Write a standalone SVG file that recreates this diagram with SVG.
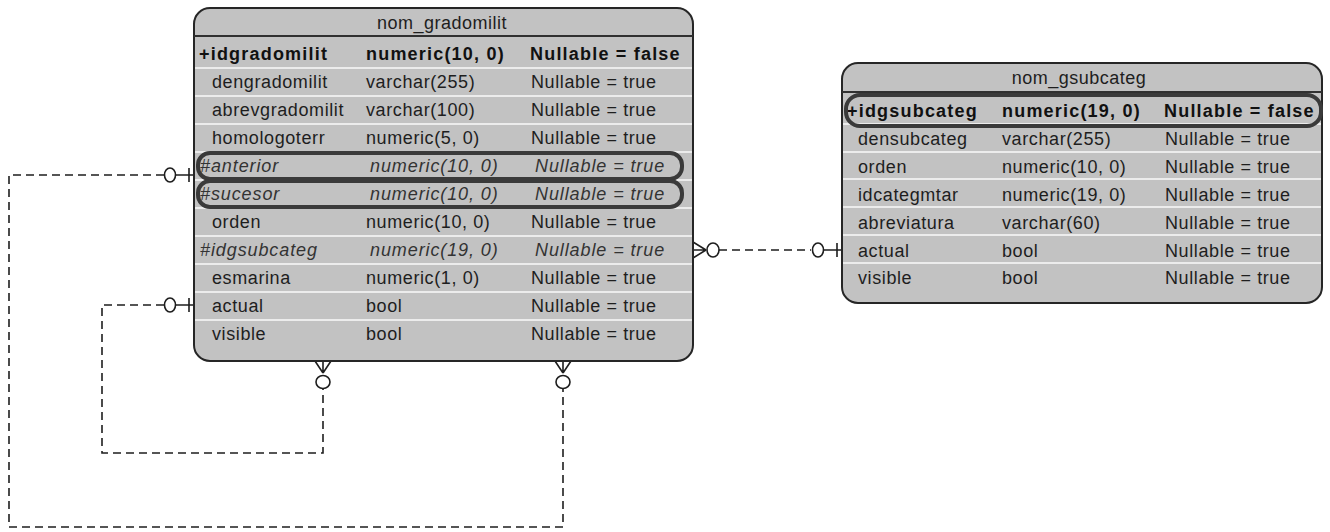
<svg xmlns="http://www.w3.org/2000/svg" xmlns:xlink="http://www.w3.org/1999/xlink" width="1330" height="532" viewBox="0 0 1330 532">
  <style>
    .tbl { fill: #c2c2c2; stroke: #262626; stroke-width: 2; }
    .hdr { stroke: #303030; stroke-width: 2; }
    .sep { stroke: #ececec; stroke-width: 2; }
    .key { fill: none; stroke: #3a3a3a; stroke-width: 4; }
    text { font-family: "Liberation Sans", Arial, sans-serif; font-size: 18px; letter-spacing: 0.6px; fill: #1e1e1e; }
    .title { text-anchor: middle; letter-spacing: 0.5px; }
    .pk { font-weight: bold; letter-spacing: 1.2px; fill: #111; }
    .fk { font-style: italic; letter-spacing: 0.9px; fill: #333; }
    .dash { fill: none; stroke: #1e1e1e; stroke-width: 1.6; stroke-dasharray: 8 5; }
    .sym { fill: none; stroke: #1e1e1e; stroke-width: 1.6; }
    .ring { fill: #ffffff; stroke: #1e1e1e; stroke-width: 1.6; }
  </style>
  <defs>
    <!-- many-optional end, pointing up into the table -->
    <g id="manyUp">
      <path class="sym" d="M0,0 L-8,-12 M0,0 L0,-12 M0,0 L8,-12"/>
      <ellipse class="ring" cx="0" cy="9" rx="7" ry="6.5"/>
    </g>
    <!-- one-optional end, entering the table from the left -->
    <g id="oneLeft">
      <path class="sym" d="M-18,0 L0,0 M-5,-7 L-5,7"/>
      <ellipse class="ring" cx="-24" cy="0" rx="5.5" ry="7"/>
    </g>
  </defs>

  <rect width="1330" height="532" fill="#ffffff"/>

  <!-- relationship lines -->
  <g id="connectors">
    <!-- nom_gradomilit.anterior -> nom_gradomilit -->
    <path class="dash" d="M164,175 H9 V527 H563 V389"/>
    <use xlink:href="#oneLeft" x="194" y="175"/>
    <use xlink:href="#manyUp" x="563" y="373"/>
    <!-- nom_gradomilit.sucesor -> nom_gradomilit -->
    <path class="dash" d="M164,305 H102 V453 H323 V389"/>
    <use xlink:href="#oneLeft" x="194" y="305"/>
    <use xlink:href="#manyUp" x="323" y="373"/>
    <!-- nom_gradomilit.idgsubcateg -> nom_gsubcateg -->
    <path class="sym" d="M706,250 L693,242 M706,250 L693,250 M706,250 L693,258"/>
    <ellipse class="ring" cx="713" cy="250" rx="6" ry="7"/>
    <path class="dash" d="M719,250 H811"/>
    <use xlink:href="#oneLeft" x="842" y="250"/>
  </g>

  <!-- table nom_gradomilit -->
  <g id="nom_gradomilit">
    <rect class="tbl" x="194" y="8" width="499" height="353" rx="16"/>
    <line class="hdr" x1="194" y1="36" x2="693" y2="36"/>
    <g class="rows">
      <line class="sep" x1="195" y1="68" x2="692" y2="68"/>
      <line class="sep" x1="195" y1="96" x2="692" y2="96"/>
      <line class="sep" x1="195" y1="124" x2="692" y2="124"/>
      <line class="sep" x1="195" y1="152" x2="692" y2="152"/>
      <line class="sep" x1="195" y1="180" x2="692" y2="180"/>
      <line class="sep" x1="195" y1="208" x2="692" y2="208"/>
      <line class="sep" x1="195" y1="236" x2="692" y2="236"/>
      <line class="sep" x1="195" y1="264" x2="692" y2="264"/>
      <line class="sep" x1="195" y1="292" x2="692" y2="292"/>
      <line class="sep" x1="195" y1="320" x2="692" y2="320"/>
    </g>
    <text class="title" x="442" y="29">nom_gradomilit</text>

    <text class="pk" x="199" y="60">+idgradomilit</text>
    <text class="pk" x="366" y="60">numeric(10, 0)</text>
    <text class="pk" x="530" y="60">Nullable = false</text>

    <text x="212" y="88">dengradomilit</text>
    <text x="366" y="88">varchar(255)</text>
    <text x="531" y="88">Nullable = true</text>

    <text x="212" y="116">abrevgradomilit</text>
    <text x="366" y="116">varchar(100)</text>
    <text x="531" y="116">Nullable = true</text>

    <text x="212" y="144">homologoterr</text>
    <text x="366" y="144">numeric(5, 0)</text>
    <text x="531" y="144">Nullable = true</text>

    <text class="fk" x="200" y="172">#anterior</text>
    <text class="fk" x="370" y="172">numeric(10, 0)</text>
    <text class="fk" x="535" y="172">Nullable = true</text>

    <text class="fk" x="200" y="200">#sucesor</text>
    <text class="fk" x="370" y="200">numeric(10, 0)</text>
    <text class="fk" x="535" y="200">Nullable = true</text>

    <text x="212" y="228">orden</text>
    <text x="366" y="228">numeric(10, 0)</text>
    <text x="531" y="228">Nullable = true</text>

    <text class="fk" x="200" y="256">#idgsubcateg</text>
    <text class="fk" x="370" y="256">numeric(19, 0)</text>
    <text class="fk" x="535" y="256">Nullable = true</text>

    <text x="212" y="284">esmarina</text>
    <text x="366" y="284">numeric(1, 0)</text>
    <text x="531" y="284">Nullable = true</text>

    <text x="212" y="312">actual</text>
    <text x="366" y="312">bool</text>
    <text x="531" y="312">Nullable = true</text>

    <text x="212" y="340">visible</text>
    <text x="366" y="340">bool</text>
    <text x="531" y="340">Nullable = true</text>

    <!-- key-column highlights -->
    <rect class="key" x="198" y="153" width="484" height="26" rx="12"/>
    <rect class="key" x="198" y="181" width="484" height="26" rx="12"/>
  </g>

  <!-- table nom_gsubcateg -->
  <g id="nom_gsubcateg">
    <rect class="tbl" x="842" y="63" width="480" height="240" rx="16"/>
    <line class="hdr" x1="842" y1="92" x2="1322" y2="92"/>
    <g class="rows">
      <line class="sep" x1="843" y1="124" x2="1321" y2="124"/>
      <line class="sep" x1="843" y1="152" x2="1321" y2="152"/>
      <line class="sep" x1="843" y1="179" x2="1321" y2="179"/>
      <line class="sep" x1="843" y1="207" x2="1321" y2="207"/>
      <line class="sep" x1="843" y1="235" x2="1321" y2="235"/>
      <line class="sep" x1="843" y1="263" x2="1321" y2="263"/>
    </g>
    <text class="title" x="1079" y="84">nom_gsubcateg</text>

    <text class="pk" x="847" y="117">+idgsubcateg</text>
    <text class="pk" x="1002" y="117">numeric(19, 0)</text>
    <text class="pk" x="1164" y="117">Nullable = false</text>

    <text x="858" y="145">densubcateg</text>
    <text x="1002" y="145">varchar(255)</text>
    <text x="1165" y="145">Nullable = true</text>

    <text x="858" y="173">orden</text>
    <text x="1002" y="173">numeric(10, 0)</text>
    <text x="1165" y="173">Nullable = true</text>

    <text x="858" y="201">idcategmtar</text>
    <text x="1002" y="201">numeric(19, 0)</text>
    <text x="1165" y="201">Nullable = true</text>

    <text x="858" y="229">abreviatura</text>
    <text x="1002" y="229">varchar(60)</text>
    <text x="1165" y="229">Nullable = true</text>

    <text x="858" y="257">actual</text>
    <text x="1002" y="257">bool</text>
    <text x="1165" y="257">Nullable = true</text>

    <text x="858" y="284">visible</text>
    <text x="1002" y="284">bool</text>
    <text x="1165" y="284">Nullable = true</text>

    <rect class="key" x="846" y="95" width="475" height="31" rx="14"/>
  </g>
</svg>
